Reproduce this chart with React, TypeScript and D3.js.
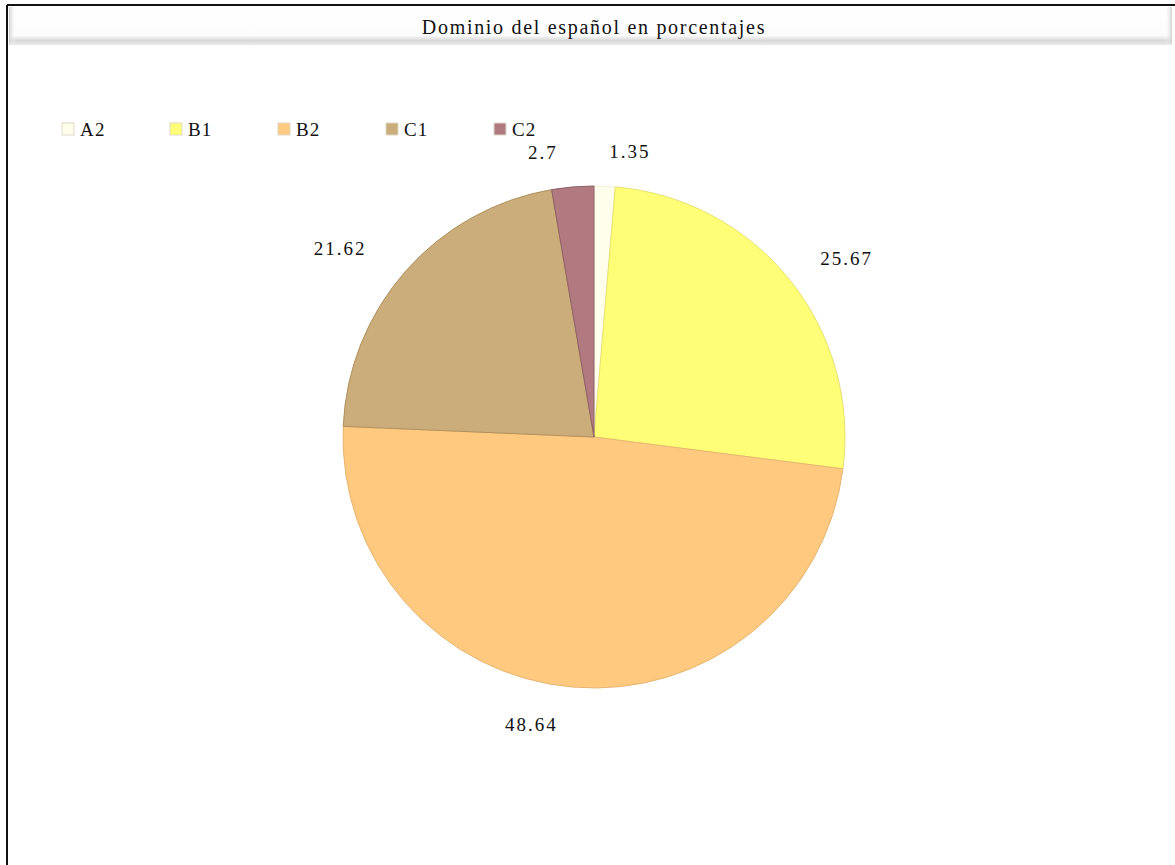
import React from "react";
import * as d3 from "d3";

const categories = ["A2", "B1", "B2", "C1", "C2"];
const values = [1.35, 25.67, 48.64, 21.62, 2.7];
const labels = ["1.35", "25.67", "48.64", "21.62", "2.7"];
const colors = ["#FFFFEC", "#FFFF77", "#FFCA80", "#CBAD7B", "#B07A80"];
const strokes = ["#F2EED8", "#E8E070", "#E8B470", "#B0905E", "#906066"];
const title = "Dominio del español en porcentajes";

export default function App() {
  const W = 1175, H = 865;
  const cx = 594, cy = 437, r = 251, rl = 287;
  const pie = d3.pie<number>().value((d) => d).sort(null);
  const arcs = pie(values);
  const arc = d3.arc<d3.PieArcDatum<number>>().innerRadius(0).outerRadius(r);
  const legendX = d3.scaleLinear().domain([0, 1]).range([62, 170]);
  const fs: React.CSSProperties = { fontFamily: "Liberation Serif, Times New Roman, serif" };
  return (
    <svg width={W} height={H} style={{ position: "absolute", left: 0, top: 0, background: "#fff" }}>
      <defs>
        <linearGradient id="tg" x1="0" y1="0" x2="0" y2="1">
          <stop offset="0" stopColor="#ffffff" />
          <stop offset="0.75" stopColor="#fcfcfc" />
          <stop offset="0.88" stopColor="#d8d8d8" />
          <stop offset="1" stopColor="#ececec" />
        </linearGradient>
        <linearGradient id="tl" x1="0" y1="0" x2="1" y2="0">
          <stop offset="0" stopColor="#cfcfcf" />
          <stop offset="1" stopColor="#ffffff" stopOpacity="0" />
        </linearGradient>
        <linearGradient id="tr" x1="1" y1="0" x2="0" y2="0">
          <stop offset="0" stopColor="#cfcfcf" />
          <stop offset="1" stopColor="#ffffff" stopOpacity="0" />
        </linearGradient>
      </defs>
      <rect x={0} y={0} width={W} height={H} fill="#fff" />
      <line x1={7} y1={5} x2={W} y2={5} stroke="#111" strokeWidth={2} />
      <line x1={7} y1={5} x2={7} y2={H} stroke="#111" strokeWidth={2} />
      <rect x={9} y={7} width={1163} height={38} fill="url(#tg)" />
      <rect x={9} y={7} width={7} height={36} fill="url(#tl)" />
      <rect x={1165} y={7} width={7} height={36} fill="url(#tr)" />
      <text x={594} y={34} textAnchor="middle" fontSize={20} letterSpacing={1.7} fill="#111" style={fs}>{title}</text>
      {categories.map((c, i) => (
        <g key={c}>
          <rect x={legendX(i)} y={123} width={12} height={12} fill={colors[i]} stroke="#dcd8c8" strokeWidth={1} />
          <text x={legendX(i) + 18} y={136} fontSize={19} letterSpacing={1.2} fill="#111" style={fs}>{c}</text>
        </g>
      ))}
      <g transform={`translate(${cx},${cy})`}>
        {arcs.map((a, i) => (
          <path key={i} d={arc(a) || ""} fill={colors[i]} stroke={strokes[i]} strokeWidth={1} />
        ))}
        {arcs.map((a, i) => {
          const m = (a.startAngle + a.endAngle) / 2;
          const x = Math.sin(m) * rl;
          const y = -Math.cos(m) * rl;
          const right = Math.sin(m) >= 0;
          return (
            <text key={"l" + i} x={x + (right ? 3 : -12)} y={y + 8} textAnchor={right ? "start" : "end"} fontSize={19} letterSpacing={2} fill="#111" style={fs}>
              {labels[i]}
            </text>
          );
        })}
      </g>
    </svg>
  );
}
